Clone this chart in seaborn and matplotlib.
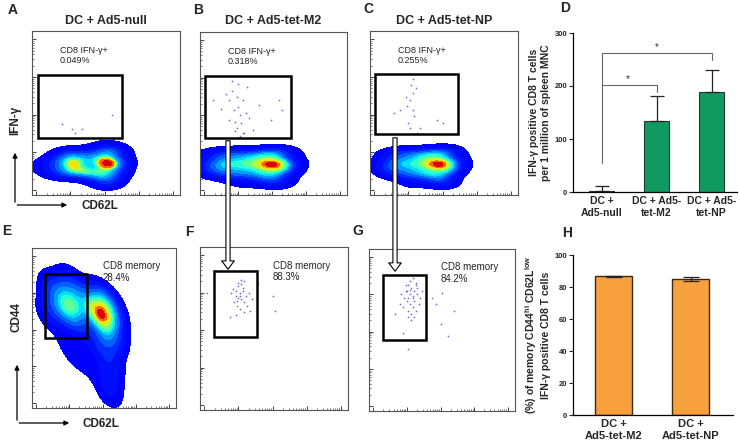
import numpy as np
import pandas as pd
import matplotlib
matplotlib.use("Agg")
import matplotlib.pyplot as plt
import seaborn as sns
from matplotlib.colors import ListedColormap, BoundaryNorm
from matplotlib.patches import Rectangle, FancyArrowPatch

# ---------------- data ----------------
# panel D
d_groups = ["DC +\nAd5-null", "DC + Ad5-\ntet-M2", "DC + Ad5-\ntet-NP"]
d_means = [2, 134, 188]
d_err = [9, 47, 43]
# bracket: (x from, x to, start y, top y, end y)
d_brackets = [(0, 1, 54, 202, 189), (0, 2, 202, 262, 249)]
d_stars = [(0.48, 204), (1.0, 264)]

# panel H
h_groups = ["DC +\nAd5-tet-M2", "DC +\nAd5-tet-NP"]
h_means = [86.6, 84.9]
h_err = [0.5, 1.2]

# flow panels, axis units 0-100
titles = ["DC + Ad5-null", "DC + Ad5-tet-M2", "DC + Ad5-tet-NP"]
ifn_pct = ["0.049%", "0.318%", "0.255%"]
mem_pct = ["28.4%", "88.3%", "84.2%"]
ifn_gate = [(4, 35, 61, 73), (3.5, 35, 62, 73), (3.5, 37, 59.5, 74)]
mem_gate = [(9, 44, 38, 84), (9.5, 45, 38.5, 85), (9.5, 44, 39, 84)]

# density clouds (weighted anchor points)
a_x = [10, 14, 18, 24, 24, 28, 32, 32, 38, 38, 46, 46, 51, 51, 55, 55, 50, 58]
a_y = [18, 14, 20, 14, 24, 19, 14, 25, 14, 21, 12, 24, 19, 8, 14, 26, 29, 20]
a_w = [0.6, 0.6, 1, 1.5, 1.5, 2.2, 1, 1, 1.5, 1, 1.5, 1.5, 3, 1.5, 1.5, 1.5, 0.8, 1]
b_x = [5, 10, 10, 16, 22, 22, 28, 34, 34, 40, 46, 46, 50, 51, 55, 55, 60, 30]
b_y = [18, 14, 24, 19, 13, 25, 19, 14, 24, 19, 12, 25, 19, 8, 15, 26, 20, 8]
b_w = [0.8, 1, 1, 1.5, 1.2, 1.2, 1.5, 1.2, 1.2, 1.2, 1.5, 1.5, 3, 1.2, 1.5, 1.2, 0.8, 0.6]
c_x = [10, 15, 15, 20, 26, 26, 31, 36, 36, 40, 44, 44, 48, 49, 53, 53, 58, 30]
c_y = [18, 14, 24, 19, 13, 25, 19, 14, 24, 19, 12, 25, 19, 8, 15, 26, 20, 8]
c_w = [0.8, 1, 1, 1.5, 1.2, 1.2, 1.5, 1.2, 1.2, 1.2, 1.5, 1.5, 3, 1.2, 1.5, 1.2, 0.8, 0.6]
e_x = [16, 22, 22, 28, 30, 32, 12, 14, 26,
       44, 49, 52, 50, 56, 46, 40,
       52, 54, 54, 53, 58, 44, 36, 30, 40, 24]
e_y = [66, 72, 60, 64, 56, 72, 58, 76, 80,
       60, 58, 66, 50, 58, 70, 64,
       40, 28, 16, 8, 44, 40, 44, 30, 25, 40]
e_w = [1, 1.2, 1.2, 2.2, 1, 1, 0.6, 0.6, 0.6,
       1.5, 3, 1.5, 1.5, 1, 1, 1,
       1, 0.8, 0.6, 0.4, 0.6, 0.4, 0.3, 0.2, 0.25, 0.3]

# sparse events inside the gates
adot_x = [27, 34, 54, 29, 20]
adot_y = [40, 40, 49, 38, 43]
bdot_x = [9, 14, 20, 22, 25, 26, 27, 24, 25, 20, 29, 32, 29, 54, 56, 48, 36, 30,
          22, 26, 28, 23, 31, 18, 40, 27, 33, 24]
bdot_y = [58, 53, 58, 64, 60, 54, 49, 45, 41, 46, 38, 66, 58, 58, 52, 46, 40, 38,
          70, 68, 44, 52, 50, 62, 55, 36, 47, 39]
cdot_x = [29, 29, 27, 24, 25, 29, 30, 26, 27, 20, 16, 34, 45, 49, 32, 31, 28]
cdot_y = [71, 62, 58, 60, 54, 52, 48, 44, 41, 52, 50, 41, 46, 44, 38, 65, 67]
fdot_x = [22, 24, 26, 27, 28, 29, 30, 25, 27, 31, 23, 26, 28, 30, 24, 27, 29, 32,
          26, 21, 33, 28, 25, 39, 49, 51, 5, 20, 35, 30, 24, 34]
fdot_y = [74, 70, 76, 72, 68, 73, 66, 64, 62, 70, 66, 78, 77, 60, 58, 70, 75, 64,
          69, 72, 72, 80, 67, 78, 70, 61, 72, 57, 68, 79, 73, 61]
gdot_x = [25, 27, 28, 29, 30, 31, 32, 26, 28, 30, 33, 24, 27, 29, 31, 34, 22, 26,
          28, 30, 32, 35, 23, 27, 29, 31, 25, 28, 30, 33, 36, 21, 27, 43, 50, 58,
          49, 54, 27, 23, 39, 46, 18, 32]
gdot_y = [74, 78, 72, 76, 70, 74, 78, 68, 66, 64, 72, 70, 62, 60, 68, 66, 72, 74,
          80, 82, 62, 70, 64, 58, 56, 58, 78, 75, 71, 76, 74, 66, 70, 70, 73, 62,
          54, 46, 38, 48, 72, 66, 60, 79]

# ---------------- style ----------------
sns.set_style("white")
plt.rcParams["font.family"] = ["Liberation Sans", "DejaVu Sans"]
plt.rcParams["mathtext.fontset"] = "custom"
plt.rcParams["mathtext.rm"] = "Liberation Sans:bold"
plt.rcParams["mathtext.it"] = "Liberation Sans:bold"
plt.rcParams["mathtext.bf"] = "Liberation Sans:bold"

W, H = 740, 444
fig = plt.figure(figsize=(7.4, 4.44), dpi=100)


def rect(l, t, r, b):
    return [l / W, 1 - b / H, (r - l) / W, (b - t) / H]


def fpos(x, y):
    return x / W, 1 - y / H


jet = plt.get_cmap("jet")
kde_levels = [0.03, 0.12, 0.24, 0.36, 0.48, 0.6, 0.7, 0.79, 0.86, 0.91, 0.95, 0.98, 1.0]
band_cmap = ListedColormap(jet([0.12, 0.14, 0.17, 0.22, 0.28, 0.34, 0.4, 0.47,
                                0.56, 0.67, 0.8, 0.92]))
dot_col = "#6b6bd6"


def flow_axes(r):
    ax = fig.add_axes(rect(*r))
    ax.set_xlim(0, 100)
    ax.set_ylim(0, 100)
    for s in ax.spines.values():
        s.set_color("#555555")
        s.set_linewidth(0.8)
    major = [3, 26, 49, 72, 95]
    minor = [m + 23 * np.log10(k) for m in major[:-1] for k in range(2, 10)]
    for axis in (ax.xaxis, ax.yaxis):
        axis.set_ticks(major)
        axis.set_ticks(minor, minor=True)
    ax.tick_params(which="major", direction="in", length=3, width=0.7,
                   color="#444444", labelbottom=False, labelleft=False,
                   bottom=True, left=True)
    ax.tick_params(which="minor", direction="in", length=1.6, width=0.5,
                   color="#444444", bottom=True, left=True)
    return ax


def cloud(ax, x, y, w, bw):
    n_before = len(ax.collections)
    sns.kdeplot(x=x, y=y, weights=w, fill=True, cmap=band_cmap,
                levels=kde_levels, bw_adjust=bw, ax=ax, clip=((0, 100), (0, 100)))
    # one colour per density band
    for cs in ax.collections[n_before:]:
        lv = np.asarray(cs.levels)
        cs.set_cmap(band_cmap)
        cs.set_norm(BoundaryNorm(lv, band_cmap.N))
    ax.set_xlim(0, 100)
    ax.set_ylim(0, 100)
    ax.set_xlabel("")
    ax.set_ylabel("")


def gate(ax, g):
    ax.add_patch(Rectangle((g[0], g[1]), g[2] - g[0], g[3] - g[1], fill=False,
                           ec="black", lw=1.8, zorder=5))


top_rects = [(32, 31, 180, 195), (200, 32, 347, 195), (370, 31, 518, 195)]
bot_rects = [(32, 248, 176, 408), (200, 247, 348, 410), (369, 249, 515, 411)]
top_clouds = [(a_x, a_y, a_w), (b_x, b_y, b_w), (c_x, c_y, c_w)]
top_dots = [(adot_x, adot_y), (bdot_x, bdot_y), (cdot_x, cdot_y)]

for i in range(3):
    ax = flow_axes(top_rects[i])
    cloud(ax, *top_clouds[i], bw=0.85)
    ax.scatter(top_dots[i][0], top_dots[i][1], s=1.5, color=dot_col, lw=0, zorder=4)
    gate(ax, ifn_gate[i])
    ax.text(19, 85, "CD8 IFN-γ+\n" + ifn_pct[i], fontsize=6.5, color="#222222",
            va="center", ha="left", linespacing=1.2)
    l, t, r, b = top_rects[i]
    fig.text(*fpos((l + r) / 2, 21), titles[i], fontsize=9, fontweight="bold",
             ha="center", va="center")

e_ax = flow_axes(bot_rects[0])
cloud(e_ax, e_x, e_y, e_w, bw=0.75)
for i, (dx, dy) in enumerate([(None, None), (fdot_x, fdot_y), (gdot_x, gdot_y)]):
    ax = e_ax if i == 0 else flow_axes(bot_rects[i])
    if dx is not None:
        ax.scatter(dx, dy, s=1.5, color=dot_col, lw=0, zorder=4)
    gate(ax, mem_gate[i])
    ax.text(49, 85, "CD8 memory\n" + mem_pct[i], fontsize=7, color="#222222",
            va="center", ha="left", linespacing=1.2)

# hollow arrows from IFN gates to memory plots
for x, y0, y1 in [(228, 138, 272), (395, 135, 274)]:
    fig.add_artist(FancyArrowPatch(fpos(x, y0), fpos(x, y1),
                                   arrowstyle="simple,head_length=0.6,head_width=0.9,tail_width=0.3",
                                   mutation_scale=10, fc="white", ec="black", lw=0.8,
                                   zorder=10))

# axis arrows / labels
for (x0, y0, ytip, xtip, ylab, ylx, yly, xlx) in [
        (15, 205, 150, 70, "IFN-γ", 15, 120, 100),
        (17, 423, 362, 72, "CD44", 17, 317, 101)]:
    fig.add_artist(FancyArrowPatch(fpos(x0, y0), fpos(x0, ytip), arrowstyle="-|>",
                                   mutation_scale=7, color="black", lw=0.9))
    fig.add_artist(FancyArrowPatch(fpos(x0 - 0.5, y0), fpos(xtip, y0), arrowstyle="-|>",
                                   mutation_scale=7, color="black", lw=0.9))
    fig.text(*fpos(ylx, yly), ylab, rotation=90, fontsize=8.5, fontweight="bold",
             ha="center", va="center")
    fig.text(*fpos(xlx, y0 + 1), "CD62L", fontsize=8.5, fontweight="bold",
             ha="center", va="center")

# panel letters
for lab, x, y in [("A", 13, 10), ("B", 198, 10), ("C", 368, 9), ("D", 565, 8),
                  ("E", 7, 231), ("F", 189, 232), ("G", 358, 231), ("H", 567, 233)]:
    fig.text(*fpos(x, y), lab, fontsize=10, fontweight="bold", ha="center", va="center")

# ---------------- panel D ----------------
ax_d = fig.add_axes(rect(573, 33, 737, 192))
df_d = pd.DataFrame({"group": d_groups, "value": d_means})
sns.barplot(data=df_d, x="group", y="value", color="#109a62", saturation=1,
            width=0.46, edgecolor="#1b3d2a", linewidth=0.8, errorbar=None, ax=ax_d)
ax_d.errorbar(range(3), d_means, yerr=[[0, 0, 0], d_err], fmt="none",
              ecolor="#222222", elinewidth=0.9, capsize=5, capthick=0.9)
for x0, x1, ys, yt, ye in d_brackets:
    ax_d.plot([x0, x0, x1, x1], [ys, yt, yt, ye], color="#666666", lw=0.8)
for sx, sy in d_stars:
    ax_d.text(sx, sy, "*", ha="center", va="bottom", fontsize=7, color="#333333")
ax_d.set_xlim(-0.52, 2.46)
ax_d.set_ylim(0, 300)
ax_d.set_yticks([0, 100, 200, 300])
ax_d.set_xlabel("")
ax_d.set_ylabel("IFN-γ positive CD8 T cells\nper 1 million of spleen MNC",
                fontsize=7.5, fontweight="bold", labelpad=3, linespacing=1.15)
ax_d.tick_params(axis="y", length=3, width=0.8, labelsize=5.5, pad=1, left=True)
ax_d.tick_params(axis="x", length=0, labelsize=7.5, pad=3)
for t in ax_d.get_xticklabels() + ax_d.get_yticklabels():
    t.set_fontweight("bold")
sns.despine(ax=ax_d)
for s in ("left", "bottom"):
    ax_d.spines[s].set_color("black")
    ax_d.spines[s].set_linewidth(0.9)

# ---------------- panel H ----------------
ax_h = fig.add_axes(rect(573, 255, 733, 415))
df_h = pd.DataFrame({"group": h_groups, "value": h_means})
sns.barplot(data=df_h, x="group", y="value", color="#f8a03e", saturation=1,
            width=0.48, edgecolor="#3a2a12", linewidth=1.0, errorbar=None, ax=ax_h)
ax_h.errorbar(range(2), h_means, yerr=h_err, fmt="none", ecolor="#222222",
              elinewidth=0.9, capsize=6, capthick=0.9)
ax_h.set_xlim(-0.53, 1.55)
ax_h.set_ylim(0, 100)
ax_h.set_yticks([0, 20, 40, 60, 80, 100])
ax_h.set_xlabel("")
ax_h.set_ylabel("(%) of memory CD44$^{hi}$ CD62L$^{low}$\nIFN-γ positive CD8 T cells",
                fontsize=7.5, fontweight="bold", labelpad=3, linespacing=1.15)
ax_h.tick_params(axis="y", length=3, width=0.8, labelsize=5.5, pad=1, left=True)
ax_h.tick_params(axis="x", length=0, labelsize=8, pad=3)
for t in ax_h.get_xticklabels() + ax_h.get_yticklabels():
    t.set_fontweight("bold")
sns.despine(ax=ax_h)
for s in ("left", "bottom"):
    ax_h.spines[s].set_color("black")
    ax_h.spines[s].set_linewidth(0.9)

fig.savefig("out.png", dpi=100)
